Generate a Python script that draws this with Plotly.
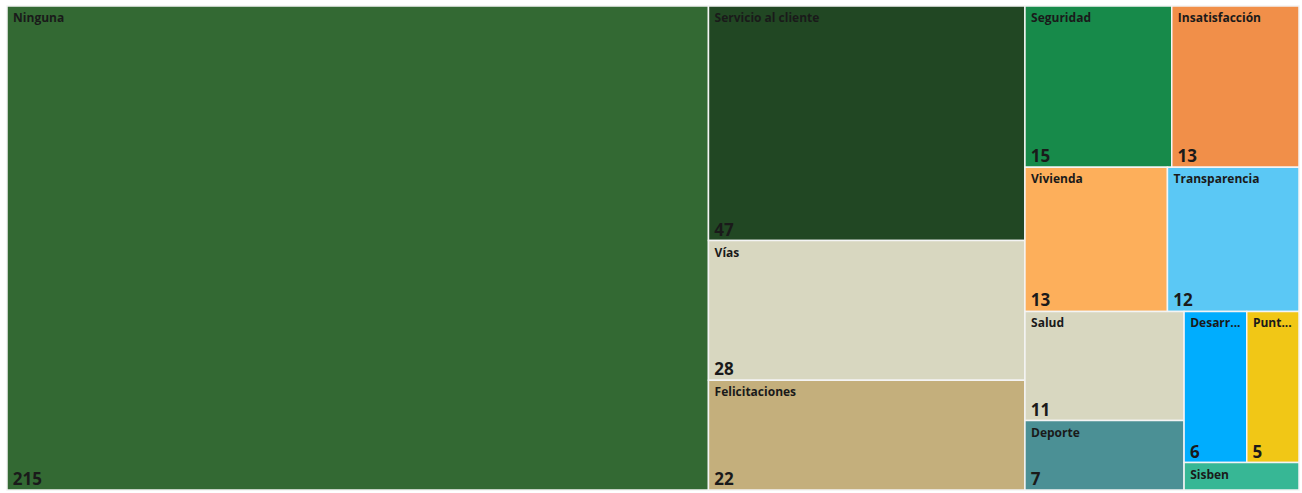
import plotly.graph_objects as go

categories = ["Ninguna", "Servicio al cliente", "Vías", "Felicitaciones", "Seguridad",
              "Insatisfacción", "Vivienda", "Transparencia", "Salud", "Deporte",
              "Desarr...", "Punt...", "Sisben"]
values = [215, 47, 28, 22, 15, 13, 13, 12, 11, 7, 6, 5, 2]
# value labels shown in the tiles (the smallest tile shows none)
value_labels = ["215", "47", "28", "22", "15", "13", "13", "12", "11", "7", "6", "5", ""]
colors = ["#336933", "#214723", "#D8D7C0", "#C4AF7C", "#178A4A", "#F18F49", "#FDAF5B",
          "#5BC8F5", "#D8D7C0", "#4B9095", "#00ADFE", "#F1C716", "#37B795"]

parents = [""] * len(categories)
tiling = dict(packing="squarify", squarifyratio=1.55, pad=0)
common = dict(labels=categories, parents=parents, values=values, sort=True,
              tiling=tiling, pathbar=dict(visible=False), hoverinfo="label+value")
nopad = dict(t=0, l=0, r=0, b=0)

H = 493
top_m, bot_m = 6, 0
area = H - top_m - bot_m
shift = 3  # value labels sit slightly lower, like the reference

fig = go.Figure()
fig.add_trace(go.Treemap(
    **common,
    domain=dict(x=[0, 1], y=[shift / area, 1]),
    marker=dict(colors=colors, line=dict(color="#F4F4F4", width=1.5), pad=nopad),
    texttemplate="\u00a0%{label}",
    textposition="top left",
    textfont=dict(family="Open Sans", size=12, color="#1A1A1A", weight="bold"),
))
fig.add_trace(go.Treemap(
    **common,
    domain=dict(x=[0, 1], y=[0, 1 - shift / area]),
    text=value_labels,
    marker=dict(colors=["rgba(0,0,0,0)"] * len(categories), line=dict(width=0), pad=nopad),
    texttemplate="\u2009%{text}",
    textposition="bottom left",
    textfont=dict(family="Open Sans", size=17, color="#1A1A1A", weight="bold"),
))
fig.update_layout(
    width=1302, height=H,
    margin=dict(l=7, r=3, t=top_m, b=bot_m),
    paper_bgcolor="white",
    uniformtext=dict(minsize=8),
)
fig.write_html("out.html")
